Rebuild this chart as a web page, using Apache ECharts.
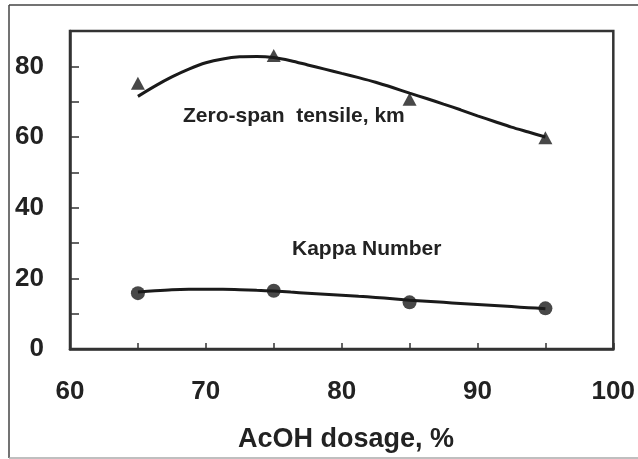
<!DOCTYPE html>
<html>
<head>
<meta charset="utf-8">
<script src="https://cdn.jsdelivr.net/npm/echarts@6/dist/echarts.min.js"></script>
<style>html,body{margin:0;padding:0;background:#fff}#c{width:638px;height:459px}</style>
</head>
<body>
<div id="c"></div>
<script>
// AcOH dosage (%) of the measured samples
var dosage = [65, 75, 85, 95];
// Measured values
var tensile = [75.2, 83.1, 70.7, 59.8];
var kappa = [15.8, 16.5, 13.2, 11.5];
// Trend curves
var curveX = [65, 66.25, 67.5, 68.75, 70, 71.25, 72.5, 73.75, 75, 76.25, 77.5, 78.75, 80,
              81.25, 82.5, 83.75, 85, 86.25, 87.5, 88.75, 90, 91.25, 92.5, 93.75, 95];
var tensileCurve = [71.5, 74.4, 77.0, 79.2, 81.0, 82.1, 82.7, 82.8, 82.5, 81.6, 80.4, 79.2, 78.0,
                    76.8, 75.5, 74.0, 72.4, 70.9, 69.3, 67.7, 66.0, 64.4, 62.8, 61.4, 60.0];
var kappaCurve = [16.1, 16.5, 16.8, 16.9, 16.9, 16.9, 16.8, 16.6, 16.4, 16.1, 15.8, 15.5, 15.2,
                  14.9, 14.6, 14.2, 13.8, 13.5, 13.2, 12.9, 12.6, 12.3, 12.0, 11.7, 11.4];
// Axis ticks
var xLabels = [60, 70, 80, 90, 100];
var yLabels = [0, 20, 40, 60, 80];
var xTitle = 'AcOH dosage, %';
var tensileName = 'Zero-span  tensile, km';
var kappaName = 'Kappa Number';

function pairs(xs, ys) { return xs.map(function (x, i) { return [x, ys[i]]; }); }

var ink = '#222';
var font = 'Liberation Sans, Arial, sans-serif';
var chart = echarts.init(document.getElementById('c'), null, { renderer: 'canvas' });
chart.setOption({
  animation: false,
  backgroundColor: '#fff',
  grid: { left: 70, top: 31, right: 24, bottom: 110, show: true, borderColor: '#333', borderWidth: 2.5, backgroundColor: 'transparent' },
  xAxis: {
    type: 'value', min: 60, max: 100, interval: 5,
    axisLine: { show: true, lineStyle: { color: '#333', width: 2.5 } },
    axisTick: { show: true, inside: true, length: 6, lineStyle: { color: '#333', width: 1.5 } },
    splitLine: { show: false },
    axisLabel: {
      margin: 30, color: ink, fontSize: 26, fontWeight: 'bold', fontFamily: font,
      formatter: function (v) { return xLabels.indexOf(v) >= 0 ? String(v) : ''; }
    }
  },
  yAxis: {
    type: 'value', min: 0, max: 90, interval: 10,
    axisLine: { show: true, lineStyle: { color: '#333', width: 2.5 } },
    axisTick: { show: true, inside: true, length: 9, lineStyle: { color: '#333', width: 1.5 } },
    splitLine: { show: false },
    axisLabel: {
      margin: 26, color: ink, fontSize: 26, fontWeight: 'bold', fontFamily: font,
      formatter: function (v) { return yLabels.indexOf(v) >= 0 ? String(v) : ''; }
    }
  },
  series: [
    { type: 'line', data: pairs(curveX, tensileCurve), smooth: 0.3, showSymbol: false, symbol: 'none',
      lineStyle: { color: '#1a1a1a', width: 3 }, z: 2 },
    { type: 'line', data: pairs(curveX, kappaCurve), smooth: 0.3, showSymbol: false, symbol: 'none',
      lineStyle: { color: '#1a1a1a', width: 3 }, z: 2 },
    { type: 'scatter', data: pairs(dosage, tensile), symbol: 'triangle', symbolSize: [14, 13],
      itemStyle: { color: '#1a1a1a' }, z: 3 },
    { type: 'scatter', data: pairs(dosage, kappa), symbol: 'circle', symbolSize: 14,
      itemStyle: { color: '#1a1a1a' }, z: 3 }
  ],
  graphic: [
    { type: 'line', shape: { x1: 9, y1: 5, x2: 638, y2: 5 }, style: { stroke: '#444', lineWidth: 1.5 }, silent: true },
    { type: 'line', shape: { x1: 9, y1: 5, x2: 9, y2: 458 }, style: { stroke: '#444', lineWidth: 1.5 }, silent: true },
    { type: 'line', shape: { x1: 9, y1: 458, x2: 638, y2: 458 }, style: { stroke: '#aaa', lineWidth: 1.5 }, silent: true },
    { type: 'text', x: 183, y: 116, style: { text: tensileName, fill: ink, font: 'bold 21px ' + font, textAlign: 'left', textVerticalAlign: 'middle' } },
    { type: 'text', x: 292, y: 249, style: { text: kappaName, fill: ink, font: 'bold 21px ' + font, textAlign: 'left', textVerticalAlign: 'middle' } },
    { type: 'text', x: 238, y: 440, style: { text: xTitle, fill: ink, font: 'bold 27px ' + font, textAlign: 'left', textVerticalAlign: 'middle' } }
  ]
});
</script>
</body>
</html>
